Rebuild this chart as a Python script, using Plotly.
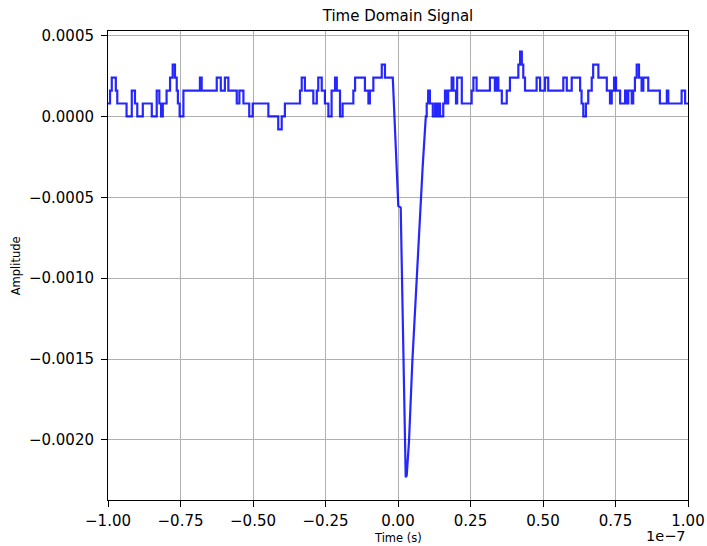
import plotly.graph_objects as go

# ADC quantization step of the recorded trace (V per count)
LSB = 8.0e-5

# Baseline before the pulse: segment start times (ns) and level in LSB counts
pre_start_ns = [-100, -99.3, -98.7, -97.3, -96.8, -93.6, -91.8, -90.7, -89.9, -88.0,
                -84.9, -83.2, -82.3, -81.7, -81.1, -79.8, -78.6, -77.7, -76.9, -76.3,
                -75.9, -75.3, -74.0, -68.3, -67.7, -62.5, -61.1, -59.7, -58.5, -55.6,
                -54.7, -53.3, -51.3, -50.1, -44.7, -41.3, -40.1, -39.0, -33.8, -33.2,
                -32.1, -29.2, -28.0, -27.5, -26.3, -25.2, -24.0, -22.9, -21.7, -21.1,
                -20.0, -19.1, -15.4, -14.8, -11.4, -10.2, -9.7, -8.5, -5.6, -4.5]
pre_level = [1, 2, 3, 2, 1, 0, 2, 1, 0, 1,
             0, 2, 1, 0, 1, 2, 3, 4, 3, 2,
             1, 0, 2, 3, 2, 3, 2, 3, 2, 1,
             2, 1, 0, 1, 0, -1, 0, 1, 2, 3,
             2, 1, 2, 3, 2, 1, 0, 2, 3, 2,
             0, 1, 2, 3, 2, 1, 2, 3, 4, 3]
pre_end_ns = -1.8

# Negative pulse samples: time (ns) and amplitude (V)
pulse_t_ns = [-1.03, -0.24, 0.10, 0.93, 1.14, 1.38, 1.62, 1.97, 2.31, 2.66,
              3.00, 3.79, 4.93, 5.86, 6.66, 7.59, 8.51, 9.31]
pulse_amp = [-0.00008, -0.00039, -0.000553, -0.000563, -0.00076, -0.00099, -0.00131,
             -0.00173, -0.00205, -0.00223, -0.00222, -0.00201, -0.00152, -0.00119,
             -0.00094, -0.00059, -0.00031, -0.00008]

# Baseline after the pulse
post_start_ns = [9.6, 9.9, 10.4, 11.0, 12.0, 12.8, 13.3, 13.9, 14.5, 15.6,
                 16.2, 16.8, 17.3, 18.5, 19.1, 20.0, 20.4, 22.0, 25.4, 26.0,
                 27.1, 31.7, 33.4, 34.0, 34.6, 35.8, 37.5, 38.6, 41.5, 42.1,
                 42.7, 43.2, 43.8, 47.8, 49.0, 50.7, 51.8, 57.0, 58.2, 59.9,
                 62.8, 63.3, 63.9, 64.8, 65.6, 66.8, 67.3, 69.1, 72.0, 73.1,
                 73.7, 74.5, 75.2, 76.6, 78.3, 78.9, 79.4, 80.6, 81.1, 81.7,
                 82.3, 83.1, 84.0, 84.6, 86.3, 90.3, 92.7, 93.2, 97.8, 99.0]
post_level = [0, 1, 2, 1, 0, 1, 0, 1, 0, 1,
              2, 1, 2, 3, 2, 1, 3, 1, 2, 3,
              2, 3, 2, 3, 2, 1, 2, 3, 4, 5,
              4, 3, 2, 3, 2, 3, 2, 3, 2, 3,
              2, 1, 0, 1, 2, 3, 4, 3, 2, 1,
              2, 3, 2, 1, 2, 1, 2, 1, 2, 3,
              4, 3, 2, 3, 2, 1, 2, 1, 2, 1]
post_end_ns = 100.0

x_ticks = [-1.0, -0.75, -0.5, -0.25, 0.0, 0.25, 0.5, 0.75, 1.0]
y_ticks = [0.0005, 0.0, -0.0005, -0.0010, -0.0015, -0.0020]


def held_steps(starts, levels, end):
    """Expand sample-and-hold segments into line vertices (seconds, volts)."""
    xs, ys = [], []
    bounds = list(starts) + [end]
    for i, lv in enumerate(levels):
        xs += [bounds[i] * 1e-9, bounds[i + 1] * 1e-9]
        ys += [lv * LSB, lv * LSB]
    return xs, ys


x1, y1 = held_steps(pre_start_ns, pre_level, pre_end_ns)
x3, y3 = held_steps(post_start_ns, post_level, post_end_ns)
t = x1 + [v * 1e-9 for v in pulse_t_ns] + x3
amp = y1 + list(pulse_amp) + y3

FONT = "DejaVu Sans"


def fmt_minus(s):
    return s.replace("-", "\u2212")


fig = go.Figure()
fig.add_trace(go.Scatter(x=t, y=amp, mode="lines",
                         line=dict(color="rgba(0,0,255,0.85)", width=2.2),
                         showlegend=False, hoverinfo="skip"))

axis_common = dict(showline=True, linecolor="black", linewidth=1, mirror=True,
                   showgrid=True, gridcolor="#b0b0b0", gridwidth=1,
                   zeroline=False, ticks="outside", ticklen=6, tickwidth=1,
                   tickcolor="black", automargin=False,
                   tickfont=dict(family=FONT, size=15, color="black"))

fig.update_xaxes(range=[-1e-7, 1e-7],
                 tickvals=[v * 1e-7 for v in x_ticks],
                 ticktext=[fmt_minus(f"{v:.2f}") for v in x_ticks],
                 ticklabelstandoff=1, **axis_common)
fig.update_yaxes(range=[-0.002371, 0.000528],
                 tickvals=y_ticks,
                 ticktext=[fmt_minus(f"{v:.4f}") if v != 0 else "0.0000" for v in y_ticks],
                 ticklabelstandoff=4, **axis_common)

fig.update_layout(
    width=707, height=546,
    margin=dict(l=108, r=19, t=31, b=46),
    paper_bgcolor="white", plot_bgcolor="white",
    font=dict(family=FONT, color="black"),
    title=dict(text="Time Domain Signal", x=0.5, xref="paper", xanchor="center",
               y=1 - 16 / 546, yref="container", yanchor="middle",
               font=dict(family=FONT, size=15, color="black")),
    annotations=[
        dict(text="Time (s)", xref="paper", yref="paper", x=0.5, y=-0.081,
             xanchor="center", yanchor="middle", showarrow=False,
             font=dict(family=FONT, size=11.5, color="black")),
        dict(text="Amplitude", xref="paper", yref="paper", x=-0.159, y=0.5,
             xanchor="center", yanchor="middle", textangle=-90, showarrow=False,
             font=dict(family=FONT, size=11.5, color="black")),
        dict(text="1e\u22127", xref="paper", yref="paper", x=1.0, y=-0.077,
             xanchor="right", yanchor="middle", showarrow=False,
             font=dict(family=FONT, size=14.5, color="black")),
    ],
)

fig.write_html("out.html")
